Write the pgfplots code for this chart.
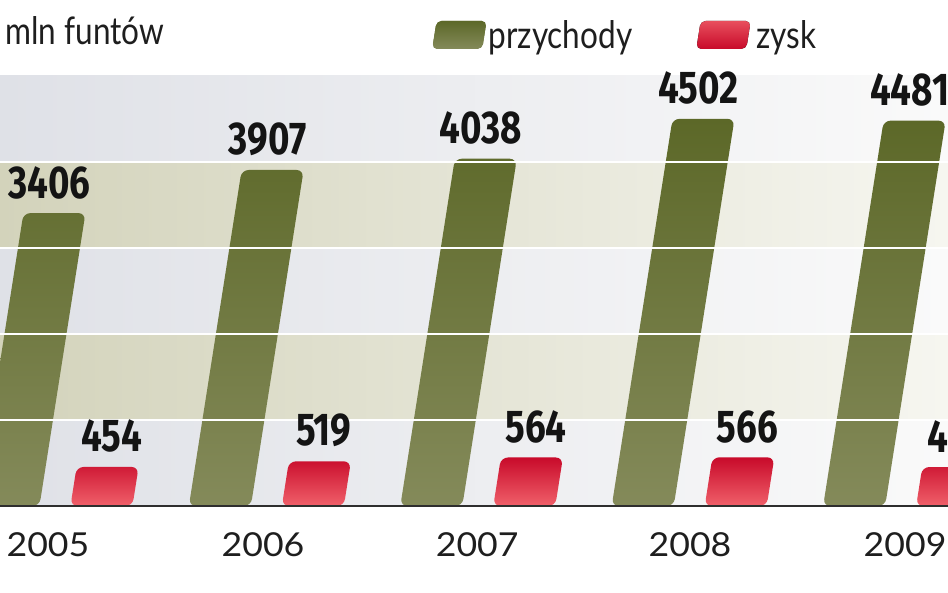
\documentclass[border=0pt]{standalone}
\usepackage{pgfplots}
\pgfplotsset{compat=1.18}
\usepackage{fontspec}
\setmainfont{Lato}
\newfontfamily\legfont[FakeStretch=0.83]{Lato}
\newfontfamily\yearfont[FakeStretch=1.08]{Lato}
\newfontfamily\numfont[FakeStretch=0.8]{Fira Sans}
\definecolor{gtop}{HTML}{5C6828}
\definecolor{gbot}{HTML}{848A5A}
\definecolor{rtop}{HTML}{C80A2A}
\definecolor{rbot}{HTML}{F0606A}
\definecolor{grayL}{HTML}{DFE1E7}
\definecolor{grayR}{HTML}{FAFAFA}
\definecolor{beigeL}{HTML}{D3D3BB}
\definecolor{beigeR}{HTML}{F6F6F0}
\definecolor{txt}{HTML}{1E1E1E}

\pgfplotstableread{
year przychody zysk
2005 3406 454
2006 3907 519
2007 4038 564
2008 4502 566
2009 4481 453
}\datatable

\begin{document}
\begin{tikzpicture}
\useasboundingbox (0pt,-87pt) rectangle (948pt,506pt);
\begin{axis}[
  at={(0pt,0pt)}, anchor=south west,
  scale only axis, width=948pt, height=430pt,
  xmin=2004.740, xmax=2009.224, ymin=0, ymax=5000,
  axis on top,
  axis x line=bottom, axis y line=left,
  x axis line style={-, line width=2pt, draw=black!82},
  y axis line style={draw=none},
  xtick={2004.967,2005.984,2006.997,2008.004,2009.021},
  xticklabels={2005,2006,2007,2008,2009},
  xtick style={draw=none},
  ytick={1000,2000,3000,4000},
  yticklabels={},
  ytick style={draw=none},
  ymajorgrids,
  grid style={white, line width=2.5pt},
  xticklabel style={font=\yearfont\fontsize{33}{33}\selectfont, text=txt, inner sep=0pt, yshift=-22pt, anchor=north},
  /pgf/number format/assume math mode=true,
  /pgf/number format/1000 sep={},
  ybar, bar width=62pt,
  nodes near coords,
  every node near coord/.append style={font=\numfont\bfseries\fontsize{46}{46}\selectfont, text=black!92, inner sep=0pt, anchor=south, yshift=14pt},
  legend columns=2,
  legend style={at={(0.4557,1.1349)}, anchor=north west, draw=none, fill=none, inner sep=0pt,
    font=\legfont\fontsize{38}{38}\selectfont, text=txt,
    /tikz/every even column/.append style={column sep=62pt}},
  legend cell align=left,
]
\fill[left color=grayL, right color=grayR] (axis cs:2004.740,0) rectangle (axis cs:2009.224,1000);
\fill[left color=beigeL, right color=beigeR] (axis cs:2004.740,1000) rectangle (axis cs:2009.224,2000);
\fill[left color=grayL, right color=grayR] (axis cs:2004.740,2000) rectangle (axis cs:2009.224,3000);
\fill[left color=beigeL, right color=beigeR] (axis cs:2004.740,3000) rectangle (axis cs:2009.224,4000);
\fill[left color=grayL, right color=grayR] (axis cs:2004.740,4000) rectangle (axis cs:2009.224,5000);

\addplot[draw=none, top color=gtop, bottom color=gbot, rounded corners=7pt, bar shift=-46.5pt, xslant=0.157,
  every node near coord/.append style={xshift=-5pt},
  legend image code/.code={\fill[gtop!75!gbot, rounded corners=5pt] (0pt,-14pt) rectangle (50pt,14pt);}]
  table[x=year, y=przychody] {\datatable};
\addlegendentry{przychody}
\addplot[draw=none, top color=rtop, bottom color=rbot, rounded corners=7pt, bar shift=46.5pt, xslant=0.157,
  every node near coord/.append style={xshift=4pt},
  legend image code/.code={\fill[top color=rbot!80!rtop, bottom color=rtop, rounded corners=5pt] (0pt,-14pt) rectangle (50pt,14pt);}]
  table[x=year, y=zysk] {\datatable};
\addlegendentry{\hspace{4pt}zysk}
\end{axis}
\node[anchor=base west, font=\legfont\fontsize{38}{38}\selectfont, text=txt] at (2pt,461pt) {mln funtów};
\end{tikzpicture}
\end{document}
